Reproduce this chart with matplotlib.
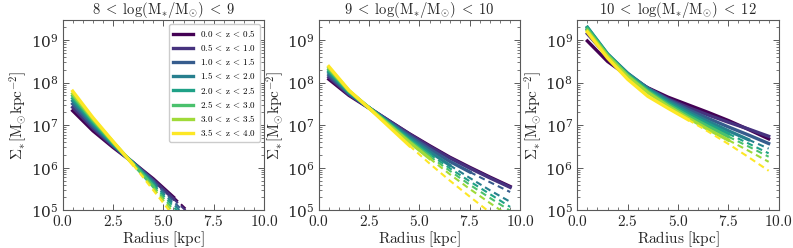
import numpy as np
import matplotlib
matplotlib.use("Agg")
import matplotlib.pyplot as plt
from matplotlib.ticker import FuncFormatter, LogLocator, MultipleLocator

plt.rcParams['mathtext.fontset'] = 'cm'
plt.rcParams['font.family'] = 'serif'
plt.rcParams['font.serif'] = ['DejaVu Serif']

# radial bins (kpc)
radius = [0.5, 1.5, 2.5, 3.5, 4.5, 5.5, 6.5, 7.5, 8.5, 9.5]

z_labels = ['0.0 < z < 0.5', '0.5 < z < 1.0', '1.0 < z < 1.5', '1.5 < z < 2.0',
            '2.0 < z < 2.5', '2.5 < z < 3.0', '3.0 < z < 3.5', '3.5 < z < 4.0']

mass_titles = [r'$8\;<\;\log(\mathrm{M}_{*}/\mathrm{M}_{\odot})\;<\;9$',
               r'$9\;<\;\log(\mathrm{M}_{*}/\mathrm{M}_{\odot})\;<\;10$',
               r'$10\;<\;\log(\mathrm{M}_{*}/\mathrm{M}_{\odot})\;<\;12$']

# log10 Sigma_* per z bin, 8 < logM < 9
logsig_m8 = [
    [7.34, 6.87, 6.48, 6.12, 5.74, 5.31, 4.86, 4.41, 3.96, 3.51],
    [7.42, 6.93, 6.51, 6.12, 5.71, 5.27, 4.82, 4.36, 3.90, 3.44],
    [7.50, 6.98, 6.53, 6.12, 5.68, 5.21, 4.73, 4.25, 3.77, 3.29],
    [7.57, 7.03, 6.55, 6.11, 5.64, 5.15, 4.65, 4.15, 3.65, 3.15],
    [7.63, 7.07, 6.57, 6.10, 5.60, 5.09, 4.56, 4.03, 3.50, 2.97],
    [7.69, 7.11, 6.59, 6.09, 5.56, 5.02, 4.46, 3.90, 3.34, 2.78],
    [7.74, 7.15, 6.61, 6.08, 5.52, 4.95, 4.38, 3.81, 3.24, 2.67],
    [7.80, 7.18, 6.62, 6.07, 5.47, 4.87, 4.27, 3.67, 3.07, 2.47],
]

# 9 < logM < 10
logsig_m9 = [
    [8.08, 7.70, 7.40, 7.10, 6.80, 6.52, 6.25, 6.01, 5.78, 5.56],
    [8.13, 7.72, 7.41, 7.10, 6.79, 6.50, 6.23, 5.99, 5.76, 5.54],
    [8.18, 7.74, 7.41, 7.08, 6.75, 6.44, 6.15, 5.90, 5.66, 5.43],
    [8.23, 7.76, 7.41, 7.06, 6.71, 6.38, 6.06, 5.76, 5.47, 5.20],
    [8.27, 7.78, 7.41, 7.04, 6.67, 6.32, 5.99, 5.68, 5.38, 5.08],
    [8.31, 7.80, 7.41, 7.02, 6.63, 6.27, 5.93, 5.60, 5.29, 4.99],
    [8.35, 7.81, 7.40, 7.00, 6.60, 6.22, 5.85, 5.50, 5.17, 4.85],
    [8.38, 7.82, 7.40, 6.96, 6.52, 6.10, 5.70, 5.32, 4.95, 4.60],
]

# 10 < logM < 12
logsig_m10 = [
    [8.98, 8.50, 8.16, 7.88, 7.66, 7.48, 7.30, 7.11, 6.90, 6.68],
    [9.15, 8.62, 8.20, 7.87, 7.62, 7.42, 7.24, 7.07, 6.91, 6.74],
    [9.25, 8.66, 8.22, 7.87, 7.60, 7.37, 7.16, 6.96, 6.77, 6.57],
    [9.30, 8.68, 8.22, 7.86, 7.57, 7.32, 7.09, 6.87, 6.66, 6.45],
    [9.30, 8.67, 8.20, 7.83, 7.53, 7.27, 7.03, 6.80, 6.57, 6.34],
    [9.26, 8.65, 8.18, 7.80, 7.49, 7.22, 6.97, 6.73, 6.50, 6.26],
    [9.22, 8.63, 8.15, 7.77, 7.45, 7.17, 6.90, 6.65, 6.40, 6.14],
    [9.19, 8.58, 8.08, 7.68, 7.40, 7.13, 6.85, 6.56, 6.25, 5.93],
]

# last radius drawn solid; beyond it the profile is dashed
solid_until_m8 = [5.5, 5.5, 4.5, 4.5, 4.5, 4.5, 3.5, 3.5]
solid_until_m9 = [9.5, 9.5, 7.5, 6.5, 5.5, 5.5, 5.5, 4.5]
solid_until_m10 = [9.5, 9.5, 9.5, 8.5, 7.5, 7.5, 7.5, 5.5]

panels = [(logsig_m8, solid_until_m8), (logsig_m9, solid_until_m9),
          (logsig_m10, solid_until_m10)]

colors = plt.cm.viridis(np.linspace(0, 1, len(z_labels)))
r = np.array(radius)

fig = plt.figure(figsize=(7.93, 2.48), dpi=100)
lefts = [0.079, 0.402, 0.728]
axes = [fig.add_axes([l, 0.152, 0.254, 0.768]) for l in lefts]

mathfmt = FuncFormatter(lambda v, p: r'$%.1f$' % v)

def zlab(s):
    return '$' + s.replace('z', r'\mathrm{z}').replace('<', r'\:<\:').replace(' ', '') + '$'

for ax, (data, cuts), title in zip(axes, panels, mass_titles):
    for i, (vals, cut) in enumerate(zip(data, cuts)):
        sig = 10 ** np.array(vals)
        solid = r <= cut
        dash = r >= cut
        ax.plot(r[solid], sig[solid], color=colors[i], lw=2.4, label=zlab(z_labels[i]))
        if dash.sum() > 1:
            ax.plot(r[dash], sig[dash], color=colors[i], lw=1.5, ls=(0, (3, 2)))
    ax.set_yscale('log')
    ax.set_xlim(0, 10)
    ax.set_ylim(1e5, 3e9)
    ax.set_title(title, fontsize=10.5, pad=1.5, color='0.15')
    ax.set_xlabel(r'$\mathrm{Radius\ [kpc]}$', fontsize=11, labelpad=0, color='0.15')
    ax.set_ylabel(r'$\Sigma_{*}[\mathrm{M}_{\odot}\mathrm{kpc}^{-2}]$', fontsize=11,
                  labelpad=1, color='0.15')
    ax.xaxis.set_major_locator(MultipleLocator(2.5))
    ax.xaxis.set_minor_locator(MultipleLocator(0.5))
    ax.xaxis.set_major_formatter(mathfmt)
    ax.yaxis.set_major_locator(LogLocator(base=10, numticks=10))
    ax.yaxis.set_minor_locator(LogLocator(base=10, subs=np.arange(2, 10), numticks=20))
    ax.tick_params(which='both', direction='in', top=True, right=True, labelsize=11,
                   colors='0.25', labelcolor='0.15', pad=3)
    ax.tick_params(axis='x', which='major', pad=3)
    ax.tick_params(which='major', length=4, width=0.6)
    ax.tick_params(which='minor', length=2, width=0.5)
    for s in ax.spines.values():
        s.set_color('0.35')
        s.set_linewidth(0.8)

axes[0].legend(loc='upper right', fontsize=6.5, handlelength=2.3, labelspacing=0.35,
               borderpad=0.4, handletextpad=0.7, framealpha=1, edgecolor='0.8',
               fancybox=True)

fig.savefig('out.png', dpi=100)
